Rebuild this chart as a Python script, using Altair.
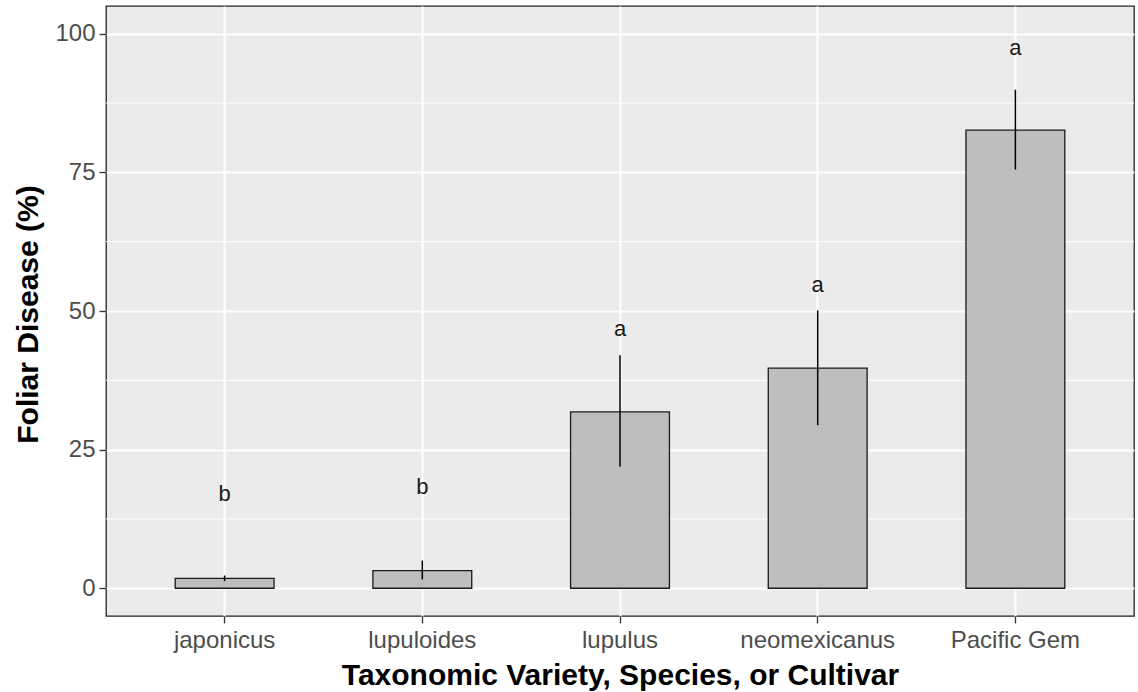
import altair as alt
import pandas as pd

# Mean foliar disease per taxon, with standard-error bounds and letter groups
categories = ["japonicus", "lupuloides", "lupulus", "neomexicanus", "Pacific Gem"]
means = [1.8, 3.2, 31.8, 39.7, 82.6]
err_low = [1.3, 1.6, 21.9, 29.4, 75.5]
err_high = [2.3, 5.0, 42.0, 50.1, 89.9]
letters = ["b", "b", "a", "a", "a"]
letter_y = [17.0, 18.2, 46.7, 54.6, 97.4]

major_breaks = [0, 25, 50, 75, 100]
minor_breaks = [12.5, 37.5, 62.5, 87.5]

df = pd.DataFrame({
    "variety": categories,
    "mean": means,
    "low": err_low,
    "high": err_high,
    "letter": letters,
    "letter_y": letter_y,
})
minor_df = pd.DataFrame({"v": minor_breaks})

FONT = "Liberation Sans"

y_scale = alt.Scale(domain=[-5, 105], nice=False, zero=False)
y_axis = alt.Axis(
    values=major_breaks,
    title="Foliar Disease (%)",
    titleX=-69,
    titleY=308,
    titleAngle=270,
    titleBaseline="alphabetic",
    labelPadding=4,
)
x_enc = alt.X(
    "variety:N",
    sort=categories,
    scale=alt.Scale(paddingInner=0.5, paddingOuter=0.35),
    axis=alt.Axis(
        title="Taxonomic Variety, Species, or Cultivar",
        labelAngle=0,
        bandPosition=0.5,
        labelPadding=5,
        titleY=68,
        titleBaseline="alphabetic",
    ),
)

minor_grid = alt.Chart(minor_df).mark_rule(color="white", strokeWidth=1).encode(
    y=alt.Y("v:Q", scale=y_scale, axis=y_axis)
)

bars = alt.Chart(df).mark_bar(
    color="#BEBEBE", stroke="#1A1A1A", strokeWidth=1.3
).encode(
    x=x_enc,
    y=alt.Y("mean:Q", scale=y_scale, axis=y_axis),
)

errors = alt.Chart(df).mark_rule(color="black", strokeWidth=1.5).encode(
    x=x_enc,
    y=alt.Y("low:Q", scale=y_scale, axis=y_axis),
    y2="high:Q",
)

labels = alt.Chart(df).mark_text(
    font=FONT, fontSize=22, color="#1A1A1A", baseline="middle", align="center"
).encode(
    x=x_enc,
    y=alt.Y("letter_y:Q", scale=y_scale, axis=y_axis),
    text="letter:N",
)

chart = alt.layer(minor_grid, bars, errors, labels).properties(
    width=1028,
    height=610,
    autosize=alt.AutoSizeParams(type="none"),
    padding={"left": 106, "top": 6, "right": 4, "bottom": 76},
).configure_view(
    fill="#EBEBEB",
    stroke="#222222",
    strokeWidth=1.3,
).configure_axis(
    domain=False,
    grid=True,
    gridColor="white",
    gridWidth=2,
    tickColor="#333333",
    tickSize=7,
    tickWidth=1.3,
    labelColor="#4D4D4D",
    labelFont=FONT,
    labelFontSize=24,
    titleFont=FONT,
    titleFontSize=30,
    titleFontWeight="bold",
    titleColor="black",
)

chart.save("out.html", embed_options={"renderer": "svg", "actions": False})
